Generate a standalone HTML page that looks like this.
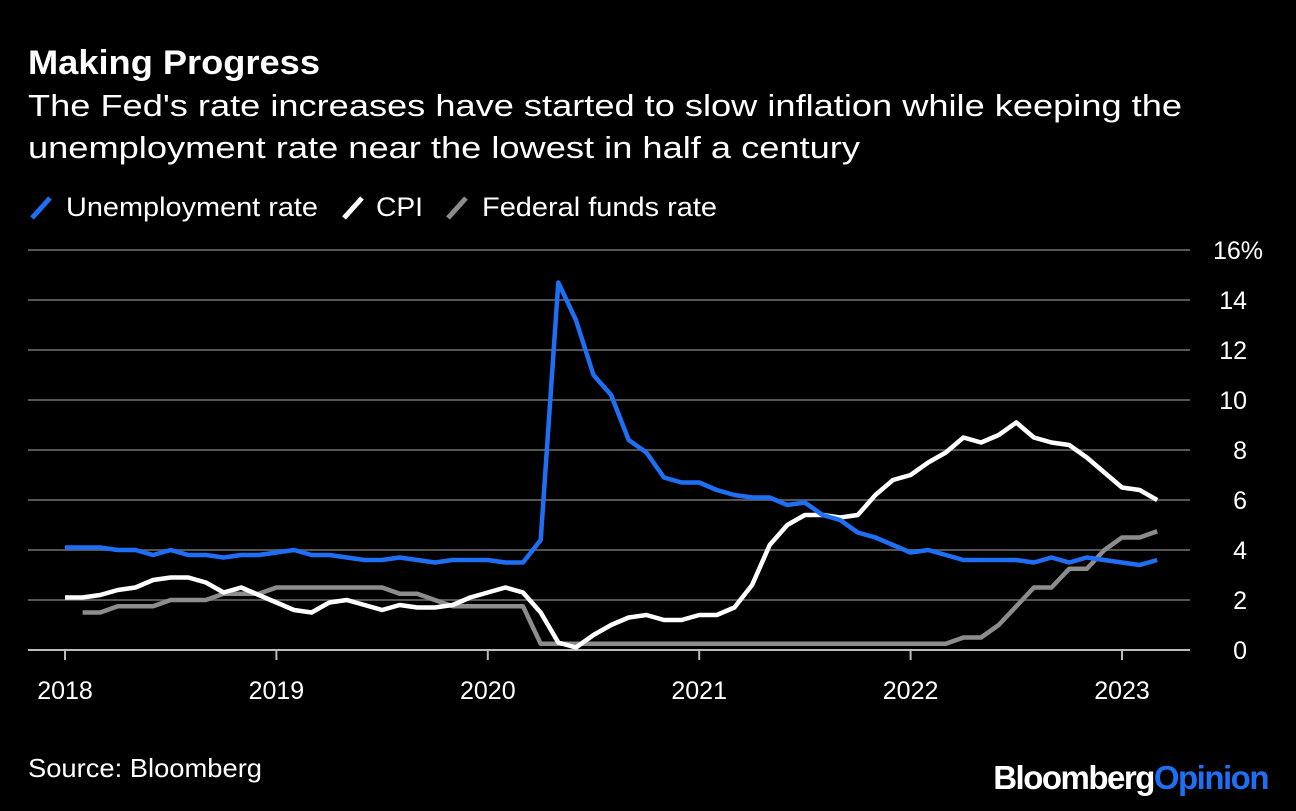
<!DOCTYPE html>
<html><head><meta charset="utf-8"><style>
body{margin:0;background:#000;width:1296px;height:806px;overflow:hidden;font-family:"Liberation Sans",Arial,sans-serif;color:#fff}
</style></head><body>
<svg width="1296" height="806" xmlns="http://www.w3.org/2000/svg" font-family="Liberation Sans, Arial, sans-serif">
<rect width="1296" height="806" fill="#000"/>
<text x="28" y="74" font-size="34" font-weight="bold" fill="#fff" textLength="292" lengthAdjust="spacingAndGlyphs">Making Progress</text>
<text x="28" y="116" font-size="31" fill="#fff" textLength="1154" lengthAdjust="spacingAndGlyphs">The Fed's rate increases have started to slow inflation while keeping the</text>
<text x="28" y="158" font-size="31" fill="#fff" textLength="832" lengthAdjust="spacingAndGlyphs">unemployment rate near the lowest in half a century</text>
<g>
<g><line x1="32" y1="218" x2="50" y2="198" stroke="#1f6ff5" stroke-width="5"/><text x="66" y="216" font-size="27" fill="#fff" textLength="252" lengthAdjust="spacingAndGlyphs">Unemployment rate</text></g>
<g><line x1="344" y1="218" x2="362" y2="198" stroke="#fff" stroke-width="5"/><text x="376" y="216" font-size="27" fill="#fff" textLength="47" lengthAdjust="spacingAndGlyphs">CPI</text></g>
<g><line x1="448" y1="218" x2="466" y2="198" stroke="#8c8c8c" stroke-width="5"/><text x="482" y="216" font-size="27" fill="#fff" textLength="235" lengthAdjust="spacingAndGlyphs">Federal funds rate</text></g>
</g>
<g id="grid"></g><g id="series"></g>
<text x="28" y="777" font-size="26" fill="#fff" textLength="234" lengthAdjust="spacingAndGlyphs">Source: Bloomberg</text>
<text x="1268" y="789" font-size="33" font-weight="bold" text-anchor="end" letter-spacing="-1.5"><tspan fill="#fff">Bloomberg</tspan><tspan fill="#1f6ff5">Opinion</tspan></text>
</svg>
<script>
const yTicks=[0,2,4,6,8,10,12,14,16];
const yearLabels=["2018","2019","2020","2021","2022","2023"];
// monthly values; unemployment & CPI start Dec 2017, fed funds start Jan 2018
const unemployment=[4.1,4.1,4.1,4.0,4.0,3.8,4.0,3.8,3.8,3.7,3.8,3.8,3.9,4.0,3.8,3.8,3.7,3.6,3.6,3.7,3.6,3.5,3.6,3.6,3.6,3.5,3.5,4.4,14.7,13.2,11.0,10.2,8.4,7.9,6.9,6.7,6.7,6.4,6.2,6.1,6.1,5.8,5.9,5.4,5.2,4.7,4.5,4.2,3.9,4.0,3.8,3.6,3.6,3.6,3.6,3.5,3.7,3.5,3.7,3.6,3.5,3.4,3.6];
const cpi=[2.1,2.1,2.2,2.4,2.5,2.8,2.9,2.9,2.7,2.3,2.5,2.2,1.9,1.6,1.5,1.9,2.0,1.8,1.6,1.8,1.7,1.7,1.8,2.1,2.3,2.5,2.3,1.5,0.3,0.1,0.6,1.0,1.3,1.4,1.2,1.2,1.4,1.4,1.7,2.6,4.2,5.0,5.4,5.4,5.3,5.4,6.2,6.8,7.0,7.5,7.9,8.5,8.3,8.6,9.1,8.5,8.3,8.2,7.7,7.1,6.5,6.4,6.0];
const fedFunds=[1.5,1.5,1.75,1.75,1.75,2.0,2.0,2.0,2.25,2.25,2.25,2.5,2.5,2.5,2.5,2.5,2.5,2.5,2.25,2.25,2.0,1.75,1.75,1.75,1.75,1.75,0.25,0.25,0.25,0.25,0.25,0.25,0.25,0.25,0.25,0.25,0.25,0.25,0.25,0.25,0.25,0.25,0.25,0.25,0.25,0.25,0.25,0.25,0.25,0.25,0.5,0.5,1.0,1.75,2.5,2.5,3.25,3.25,4.0,4.5,4.5,4.75];
const NS="http://www.w3.org/2000/svg";
const x0=65,monthW=211.4/12,yZero=650,yUnit=25;
const X=m=>x0+m*monthW;
const Y=v=>yZero-v*yUnit;
const grid=document.getElementById('grid'),ser=document.getElementById('series');
function mk(t,a,p){const e=document.createElementNS(NS,t);for(const k in a)e.setAttribute(k,a[k]);p.appendChild(e);return e;}
yTicks.forEach((v,i)=>{
 const l=mk('line',{x1:28,x2:1190,y1:Y(v),y2:Y(v),stroke:v===0?'#bbb':'#555','stroke-width':2},grid);
 
 
 const last=i===yTicks.length-1;
 const t=mk('text',{x:last?1213:1247,y:Y(v)+9,'font-size':25,fill:'#fff','text-anchor':last?'start':'end'},grid);
 t.textContent=v+(last?'%':'');
 
 
});
yearLabels.forEach((s,i)=>{
 const xx=X(i*12);
 const l=mk('line',{x1:xx,x2:xx,y1:yZero,y2:yZero+10,stroke:'#bbb','stroke-width':2},grid);
 
 
 const t=mk('text',{x:xx,y:699,'font-size':25,fill:'#fff','text-anchor':'middle'},grid);
 t.textContent=s;
 
 
});
function line(arr,off,color,name){
 const d=arr.map((v,i)=>(i?'L':'M')+X(i+off).toFixed(1)+','+Y(v).toFixed(1)).join('');
 const p=mk('path',{d:d,fill:'none',stroke:color,'stroke-width':4.5,'stroke-linejoin':'round'},ser);
 
 
}
line(fedFunds,1,'#8c8c8c','fed-funds-line');
line(cpi,0,'#fff','cpi-line');
line(unemployment,0,'#1f6ff5','unemployment-line');
</script>
</body></html>
